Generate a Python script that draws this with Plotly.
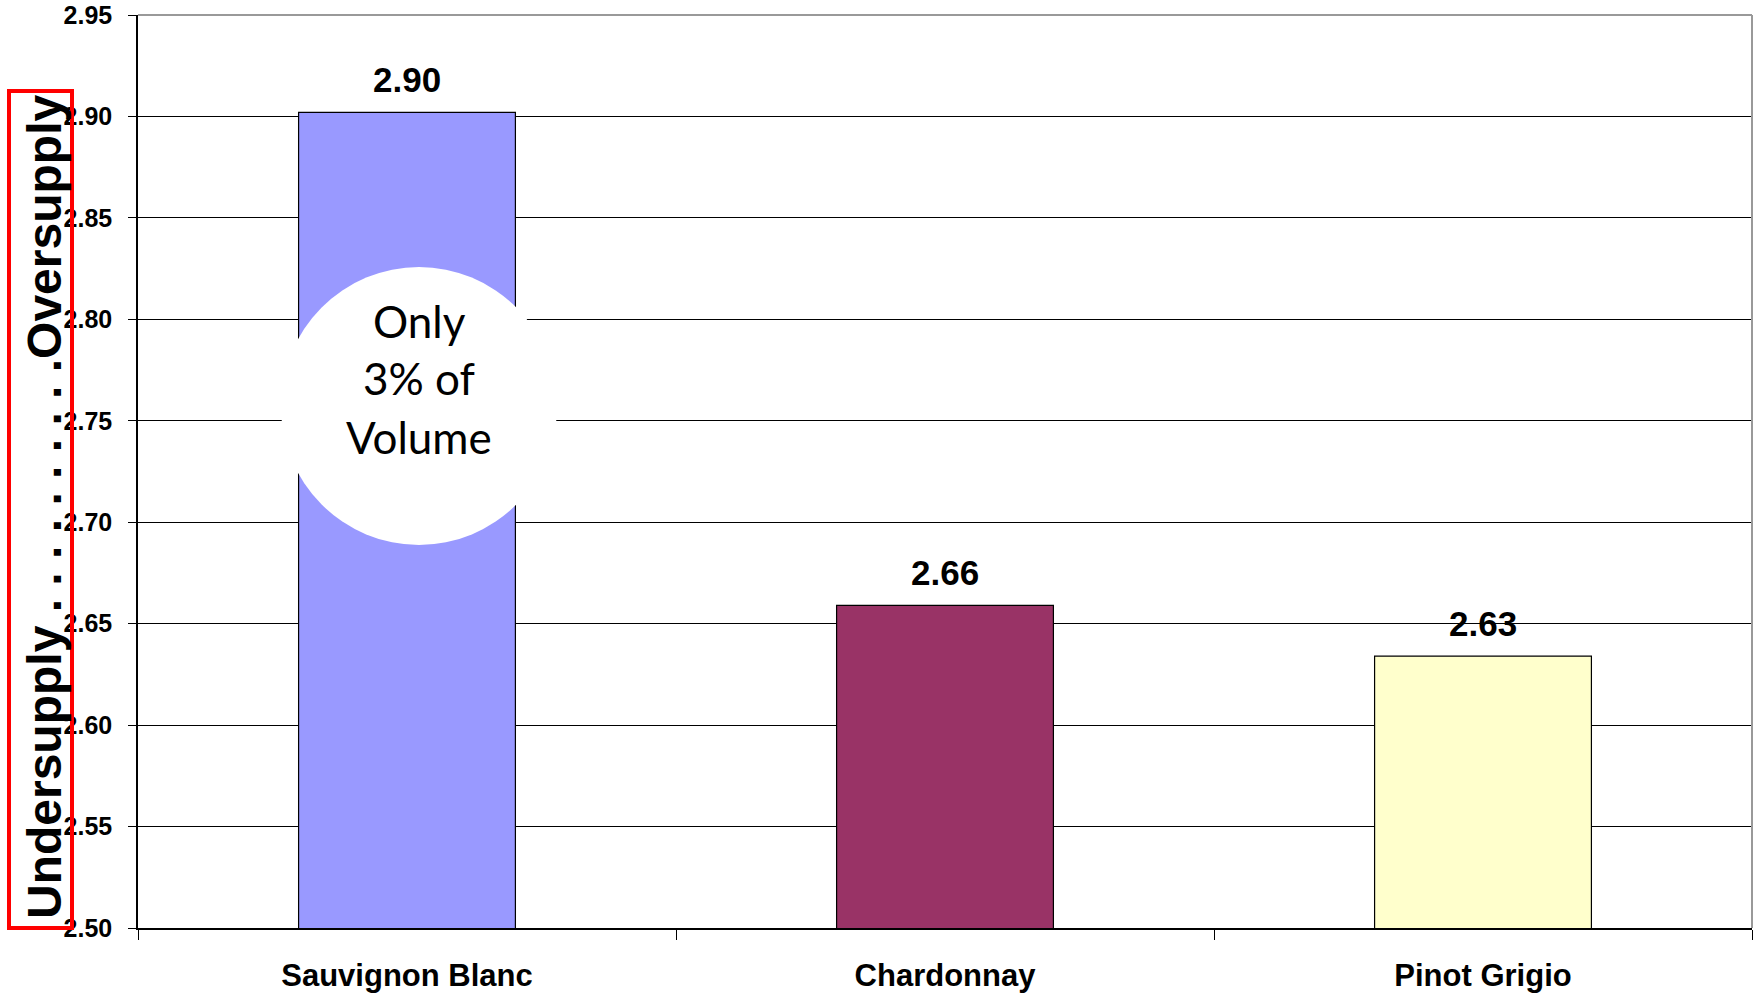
import plotly.graph_objects as go

# Wine varietals and their supply index
varietals = ["Sauvignon Blanc", "Chardonnay", "Pinot Grigio"]
supply_index = [2.902, 2.659, 2.634]
bar_colors = ["#9999FF", "#993366", "#FFFFCC"]

y_min, y_max, y_step = 2.50, 2.95, 0.05
axis_title = "Undersupply " + ". " * 9 + ".Oversupply"
callout_lines = ["Only", "3% of", "Volume"]

W, H = 1758, 995
L, R, T, B = 138, 6, 15, 67
plot_w = W - L - R
plot_h = H - T - B


def px_x(px):
    return (px - L) / plot_w


def px_y(py):
    return (H - B - py) / plot_h


bold = dict(family="Liberation Sans, Arial, sans-serif", color="black", weight="bold")

fig = go.Figure(
    go.Bar(
        x=varietals,
        y=supply_index,
        width=0.403,
        marker=dict(color=bar_colors, line=dict(color="black", width=1.2)),
        hoverinfo="skip",
    )
)

# value labels above each bar
for name, v in zip(varietals, supply_index):
    fig.add_annotation(
        x=name, y=v, xref="x", yref="y", text=f"{v:.2f}", showarrow=False,
        yanchor="bottom", yshift=11, font=dict(bold, size=35),
    )

# white callout circle over the first bar
fig.add_shape(
    type="circle", xref="paper", yref="paper",
    x0=px_x(281), x1=px_x(557), y0=px_y(545), y1=px_y(267),
    fillcolor="white", line=dict(color="white", width=0), layer="above",
)
for line, py in zip(callout_lines, [321, 378, 437]):
    fig.add_annotation(
        x=px_x(419), y=px_y(py), xref="paper", yref="paper", text=line,
        showarrow=False, xanchor="center", yanchor="middle",
        font=dict(family="Lato, Open Sans, sans-serif", size=44, color="black"),
    )

# grey frame on top and right
fig.add_shape(type="line", xref="paper", yref="paper", x0=0, x1=1, y0=1, y1=1,
              line=dict(color="#999999", width=2), layer="above")
fig.add_shape(type="line", xref="paper", yref="paper", x0=1, x1=1, y0=0, y1=1,
              line=dict(color="#999999", width=2), layer="above")

# rotated axis caption inside a red frame
fig.add_annotation(
    x=px_x(44), y=px_y(507), xref="paper", yref="paper", text=axis_title,
    textangle=-90, showarrow=False, xanchor="center", yanchor="middle",
    font=dict(bold, size=48),
)
fig.add_shape(
    type="rect", xref="paper", yref="paper",
    x0=px_x(9), x1=px_x(72), y0=px_y(928), y1=px_y(91),
    line=dict(color="#FF0000", width=4), fillcolor="rgba(0,0,0,0)", layer="above",
)

fig.update_layout(
    width=W, height=H,
    margin=dict(l=L, r=R, t=T, b=B, pad=0),
    plot_bgcolor="white", paper_bgcolor="white",
    showlegend=False,
    xaxis=dict(
        showline=True, linecolor="black", linewidth=1.5,
        ticks="outside", tickson="boundaries", ticklen=10, tickcolor="black", tickwidth=1.2,
        tickfont=dict(bold, size=31), showgrid=False, automargin=False,
        ticklabelstandoff=19,
    ),
    yaxis=dict(
        range=[y_min, y_max], dtick=y_step, tick0=y_min, tickformat=".2f",
        showline=True, linecolor="black", linewidth=1.5,
        ticks="outside", ticklen=8, tickcolor="black", tickwidth=1.2,
        showgrid=True, gridcolor="black", gridwidth=1.3,
        tickfont=dict(bold, size=25), automargin=False, zeroline=False,
        ticklabelstandoff=11,
    ),
)

fig.write_html("out.html")
